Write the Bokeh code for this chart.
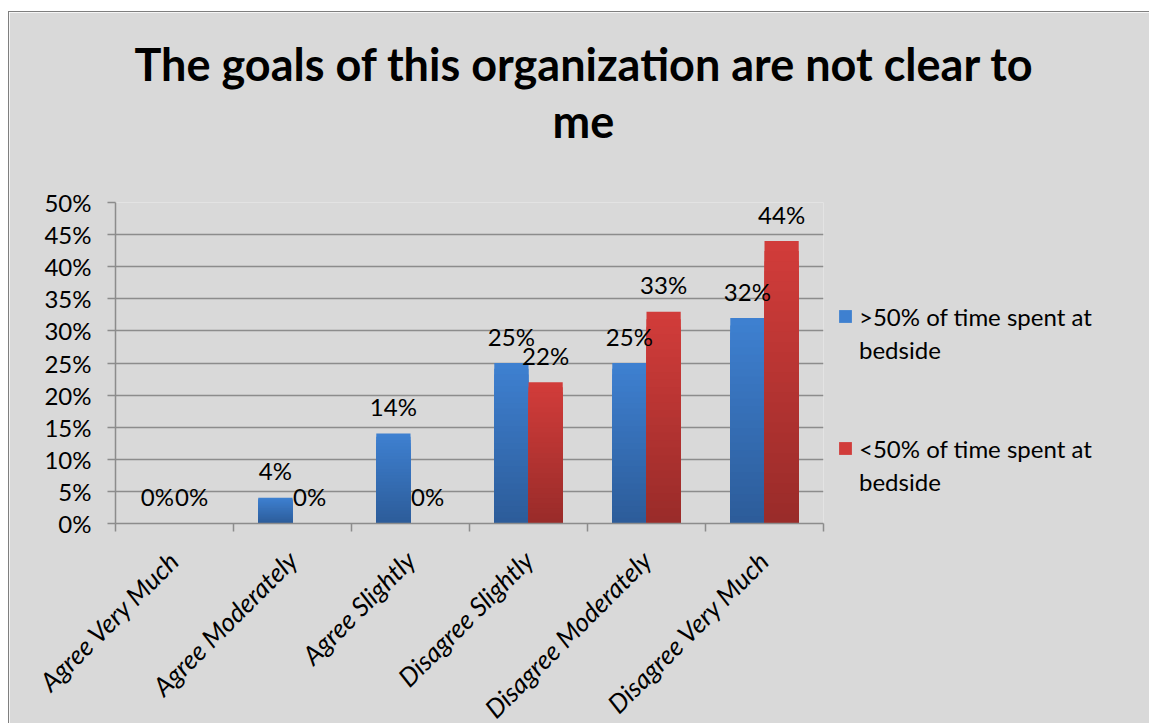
from bokeh.plotting import figure
from bokeh.models import (ColumnDataSource, FixedTicker, Legend, LegendItem, Title,
                          NumeralTickFormatter)
from bokeh.core.properties import value
from bokeh.embed import file_html
from bokeh.resources import INLINE

# Survey responses
categories = ["Agree Very Much", "Agree Moderately", "Agree Slightly",
              "Disagree Slightly", "Disagree Moderately", "Disagree Very Much"]
series_line1 = [">50% of time spent at", "<50% of time spent at"]
series_line2 = ["bedside", "bedside"]
bedside_over_50 = [0.00, 0.04, 0.14, 0.25, 0.25, 0.32]
bedside_under_50 = [0.00, 0.00, 0.00, 0.22, 0.33, 0.44]
y_ticks = [0.00, 0.05, 0.10, 0.15, 0.20, 0.25, 0.30, 0.35, 0.40, 0.45, 0.50]
title_lines = ["The goals of this organization are not clear to", "me"]

FONT = "Lato"
BG = "#d9d9d9"
GRID = "#8c8c8c"
TXT = "24px"

p = figure(frame_width=708, frame_height=321, output_backend="svg",
           toolbar_location=None,
           x_range=(0, len(categories)), y_range=(0, 0.5),
           min_border_left=106, min_border_right=327,
           min_border_top=190, min_border_bottom=201,
           background_fill_color=BG, border_fill_color=BG, outline_line_color=None)
p.margin = (11, 0, 0, 8)
p.styles = {"border-top": "1px solid #7f7f7f", "border-left": "1px solid #7f7f7f",
            "box-sizing": "border-box"}

bar_w = 0.29
n_steps = 28


def gradient_bars(vals, offset, top_rgb, bot_rgb):
    xs, tops, colors = [], [], []
    for k in range(n_steps):
        f = (n_steps - k) / n_steps
        r = round(bot_rgb[0] + (top_rgb[0] - bot_rgb[0]) * f)
        g = round(bot_rgb[1] + (top_rgb[1] - bot_rgb[1]) * f)
        b = round(bot_rgb[2] + (top_rgb[2] - bot_rgb[2]) * f)
        for i, v in enumerate(vals):
            if v <= 0:
                continue
            xs.append(i + 0.5 + offset)
            tops.append(v * f)
            colors.append("#%02x%02x%02x" % (r, g, b))
    src = ColumnDataSource(dict(x=xs, top=tops, color=colors))
    return p.vbar(x="x", top="top", bottom=0, width=bar_w, fill_color="color",
                  line_color=None, source=src)


blue_r = gradient_bars(bedside_over_50, -bar_w / 2, (62, 128, 208), (44, 91, 152))
red_r = gradient_bars(bedside_under_50, bar_w / 2, (209, 60, 58), (152, 43, 41))
# transparent stand-in used for the wrapped second line of each legend entry
blank_r = p.vbar(x=[], top=[], width=bar_w, fill_alpha=0, line_alpha=0)

# value labels above each bar
lab_x, lab_y, lab_t = [], [], []
for i, (a, b) in enumerate(zip(bedside_over_50, bedside_under_50)):
    lab_x += [i + 0.5 - bar_w / 2, i + 0.5 + bar_w / 2]
    lab_y += [a, b]
    lab_t += ["%d%%" % round(a * 100), "%d%%" % round(b * 100)]
p.text(x=lab_x, y=lab_y, text=lab_t, text_font=value(FONT), text_font_size=TXT,
       text_color="black", text_align="center", text_baseline="middle", y_offset=-27)

# axes
p.xgrid.visible = False
p.ygrid.grid_line_color = GRID
p.ygrid.grid_line_width = 1.5
p.ygrid.ticker = FixedTicker(ticks=y_ticks)

p.yaxis.ticker = FixedTicker(ticks=y_ticks)
p.yaxis.formatter = NumeralTickFormatter(format="0%")
p.yaxis.axis_line_color = GRID
p.yaxis.axis_line_width = 1.5
p.yaxis.major_tick_line_color = GRID
p.yaxis.major_tick_line_width = 1.5
p.yaxis.major_tick_out = 8
p.yaxis.major_tick_in = 0
p.yaxis.minor_tick_line_color = None
p.yaxis.major_label_text_font = FONT
p.yaxis.major_label_text_font_size = TXT
p.yaxis.major_label_text_color = "black"
p.yaxis.major_label_standoff = 16

p.xaxis.ticker = FixedTicker(ticks=[i + 0.5 for i in range(len(categories))],
                             minor_ticks=list(range(len(categories) + 1)))
p.xaxis.major_label_overrides = {i + 0.5: c for i, c in enumerate(categories)}
p.xaxis.major_label_orientation = 0.785398
p.xaxis.major_label_text_font = FONT
p.xaxis.major_label_text_font_style = "italic"
p.xaxis.major_label_text_font_size = "26px"
p.xaxis.major_label_text_color = "black"
p.xaxis.major_tick_line_color = None
p.xaxis.minor_tick_line_color = GRID
p.xaxis.minor_tick_line_width = 1.5
p.xaxis.minor_tick_out = 8
p.xaxis.minor_tick_in = 0
p.xaxis.axis_line_color = GRID
p.xaxis.axis_line_width = 1.5
p.xaxis.major_label_standoff = 24

# two-line title, each line centred over the chart area
p.add_layout(Title(text=" ", text_font_size="1px", standoff=52), "above")
p.add_layout(Title(text=title_lines[1], text_font=FONT, text_font_style="bold",
                   text_font_size="45px", text_color="black", align="left",
                   offset=437, standoff=0), "above")
p.add_layout(Title(text=title_lines[0], text_font=FONT, text_font_style="bold",
                   text_font_size="45px", text_color="black", align="left",
                   offset=19, standoff=1), "above")

items = [
    LegendItem(label=series_line1[0], renderers=[blue_r]),
    LegendItem(label=series_line2[0], renderers=[blank_r]),
    LegendItem(label="", renderers=[blank_r]),
    LegendItem(label="", renderers=[blank_r]),
    LegendItem(label=series_line1[1], renderers=[red_r]),
    LegendItem(label=series_line2[1], renderers=[blank_r]),
]
legend = Legend(items=items, location=(14, 27), orientation="vertical",
                background_fill_alpha=0, border_line_color=None,
                padding=0, margin=0, spacing=3,
                glyph_width=16, glyph_height=16, label_standoff=6,
                label_height=30,
                label_text_font=FONT, label_text_font_size=TXT,
                label_text_color="black")
p.add_layout(legend, "right")

open("out.html", "w").write(file_html(p, INLINE))
